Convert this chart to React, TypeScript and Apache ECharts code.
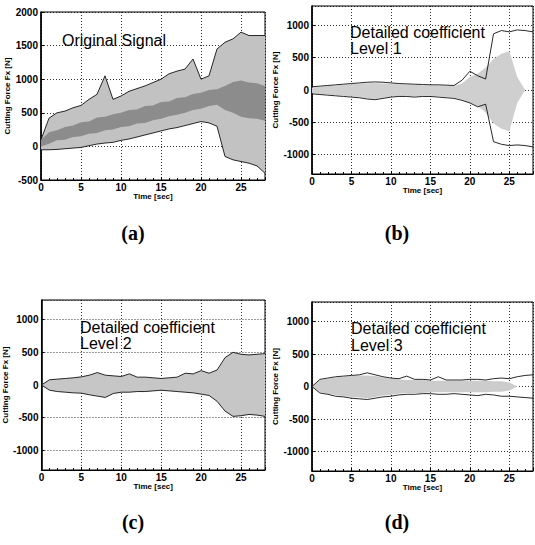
import React, { useEffect, useRef } from "react";
import * as echarts from "echarts";

// time in seconds
const T = [0, 1, 2, 3, 4, 5, 6, 7, 8, 9, 10, 11, 12, 13, 14, 15, 16, 17, 18, 19, 20, 21, 22, 23, 24, 25, 26, 27, 28];

// (a) Original signal: envelope and darker central band
const A_HI = [100, 420, 500, 525, 575, 610, 700, 775, 1050, 700, 750, 820, 860, 900, 950, 1000, 1080, 1120, 1150, 1300, 1000, 1050, 1450, 1550, 1600, 1700, 1650, 1650, 1650];
const A_LO = [-50, -50, -45, -35, -25, -15, 10, 35, 50, 60, 90, 110, 140, 170, 200, 230, 260, 280, 310, 340, 370, 350, 300, -150, -200, -225, -250, -290, -400];
const A_MID_HI = [100, 210, 240, 290, 310, 360, 370, 430, 440, 480, 500, 540, 550, 600, 610, 660, 670, 720, 730, 780, 800, 840, 850, 900, 960, 980, 950, 940, 900];
const A_MID_LO = [0, 40, 90, 100, 140, 150, 190, 200, 240, 250, 290, 300, 340, 350, 390, 410, 450, 470, 500, 540, 560, 600, 620, 540, 500, 440, 420, 410, 380];

// (b) Detail coefficient level 1
const B_HI = [50, 60, 70, 80, 90, 100, 110, 120, 125, 120, 110, 100, 95, 90, 85, 80, 80, 75, 70, 150, 290, 220, 170, 870, 920, 900, 930, 920, 900];
const B_LO = [-60, -70, -80, -90, -100, -110, -120, -140, -150, -130, -110, -100, -100, -110, -100, -100, -110, -120, -130, -160, -200, -260, -220, -800, -840, -860, -850, -860, -880];
const B_FILL_HI = [40, 50, 60, 70, 80, 90, 100, 105, 110, 100, 95, 90, 85, 80, 75, 70, 70, 65, 60, 100, 200, 250, 350, 480, 560, 600, 200, 0, 0];
const B_FILL_LO = [-50, -60, -70, -80, -90, -100, -110, -130, -140, -120, -100, -95, -90, -100, -90, -90, -100, -110, -120, -150, -200, -250, -350, -520, -600, -640, -200, 0, 0];

// (c) Detail coefficient level 2
const C_HI = [0, 80, 90, 100, 110, 125, 150, 190, 150, 140, 130, 170, 120, 120, 110, 100, 110, 120, 180, 170, 220, 180, 230, 420, 500, 470, 460, 470, 480];
const C_LO = [0, -80, -100, -110, -120, -125, -150, -170, -190, -130, -110, -110, -100, -100, -90, -80, -90, -100, -110, -120, -140, -160, -250, -400, -480, -470, -450, -460, -480];

// (d) Detail coefficient level 3
const D_HI = [0, 110, 130, 150, 160, 170, 180, 210, 180, 150, 130, 120, 160, 110, 110, 100, 150, 100, 100, 100, 110, 110, 100, 120, 130, 120, 150, 170, 180];
const D_LO = [0, -100, -120, -150, -160, -180, -190, -200, -180, -160, -150, -130, -120, -120, -110, -110, -120, -120, -110, -120, -130, -140, -120, -130, -150, -150, -160, -170, -180];
const D_FILL_HI = [0, 100, 120, 140, 150, 160, 170, 170, 160, 140, 120, 110, 100, 100, 100, 90, 90, 90, 90, 90, 90, 90, 90, 80, 80, 60, 0, 0, 0];
const D_FILL_LO = [0, -90, -110, -130, -150, -160, -170, -180, -160, -140, -130, -110, -100, -100, -100, -90, -90, -90, -90, -90, -90, -90, -90, -80, -80, -60, 0, 0, 0];

const X_TICKS = { min: 0, max: 28, interval: 5 };
const Y_NAME = "Cutting Force Fx [N]";
const X_NAME = "Time [sec]";

const FONT = "Liberation Sans";

function band(i: number, hi: number[], lo: number[], color: string, z: number) {
  return {
    type: "custom",
    xAxisIndex: i,
    yAxisIndex: i,
    silent: true,
    clip: true,
    z,
    data: T.map((t, k) => [t, hi[k], lo[k]]),
    encode: { x: 0, y: [1, 2] },
    renderItem: (params: any, api: any) => {
      if (params.dataIndex !== 0) return null;
      const pts: number[][] = [];
      for (let k = 0; k < T.length; k++) pts.push(api.coord([T[k], hi[k]]));
      for (let k = T.length - 1; k >= 0; k--) pts.push(api.coord([T[k], lo[k]]));
      return { type: "polygon", shape: { points: pts }, style: { fill: color } };
    },
  };
}

function env(i: number, vals: number[]) {
  return {
    type: "line",
    xAxisIndex: i,
    yAxisIndex: i,
    symbol: "none",
    silent: true,
    z: 5,
    data: T.map((t, k) => [t, vals[k]]),
    lineStyle: { color: "#111", width: 0.9 },
  };
}

const grids = [
  { left: 41, top: 12, width: 224, height: 168 },
  { left: 312, top: 6, width: 221, height: 168 },
  { left: 41, top: 300, width: 224, height: 170 },
  { left: 312, top: 302, width: 221, height: 169 },
];

const plain = (v: number) => String(v);

function xAxis(i: number) {
  return {
    gridIndex: i,
    type: "value",
    ...X_TICKS,
    name: X_NAME,
    nameLocation: "middle",
    nameGap: 11,
    nameTextStyle: { fontSize: 8, fontWeight: "bold", color: "#000", fontFamily: FONT },
    axisLine: { show: true, onZero: false, lineStyle: { color: "#000", width: 1.2 } },
    axisTick: { show: true, inside: true, length: 3, lineStyle: { color: "#000" } },
    minorTick: { show: true, splitNumber: 5, length: 2, lineStyle: { color: "#000" } },
    axisLabel: { fontSize: 10, fontWeight: "bold", color: "#000", margin: 2, fontFamily: FONT, showMaxLabel: false, formatter: plain },
    splitLine: { show: true, lineStyle: { type: [1, 2], color: "#000", width: 0.8 } },
  };
}

function yAxis(i: number) {
  const base: any = {
    gridIndex: i,
    type: "value",
    name: Y_NAME,
    nameLocation: "middle",
    nameRotate: 90,
    nameGap: i % 2 === 0 ? 27 : 25,
    nameTextStyle: { fontSize: 8, fontWeight: "bold", color: "#000", fontFamily: FONT },
    axisLine: { show: true, onZero: false, lineStyle: { color: "#000", width: 1.6 } },
    axisTick: { show: true, inside: true, length: 3, lineStyle: { color: "#000" } },
    axisLabel: { fontSize: 10, fontWeight: "bold", color: "#000", margin: 3, fontFamily: FONT, formatter: plain },
    splitLine: { show: true, lineStyle: { type: [1, 2], color: "#000", width: 0.8 } },
  };
  if (i === 0) {
    return { ...base, min: -500, max: 2000, interval: 500 };
  }
  return {
    ...base,
    min: -1300,
    max: 1300,
    splitNumber: 5,
    axisLabel: { ...base.axisLabel, showMinLabel: false, showMaxLabel: false },
  };
}

function txt(x: number, y: number, text: string, font: string, align = "left") {
  return {
    type: "text",
    x,
    y,
    z: 20,
    silent: true,
    style: { text, font, fill: "#000", align, verticalAlign: "middle" },
  };
}

const ANN_FONT = `16px "${FONT}"`;
const SUB_FONT = `bold 20px "Liberation Serif"`;

const option: any = {
  animation: false,
  backgroundColor: "#fff",
  grid: grids.map((g) => ({ ...g, show: true, borderColor: "#000", borderWidth: 1, backgroundColor: "transparent" })),
  xAxis: [0, 1, 2, 3].map(xAxis),
  yAxis: [0, 1, 2, 3].map(yAxis),
  series: [
    band(0, A_HI, A_LO, "#c2c2c2", 1),
    band(0, A_MID_HI, A_MID_LO, "#8c8c8c", 2),
    env(0, A_HI),
    env(0, A_LO),
    band(1, B_FILL_HI, B_FILL_LO, "#cfcfcf", 1),
    env(1, B_HI),
    env(1, B_LO),
    band(2, C_HI, C_LO, "#c6c6c6", 1),
    env(2, C_HI),
    env(2, C_LO),
    band(3, D_FILL_HI, D_FILL_LO, "#cccccc", 1),
    env(3, D_HI),
    env(3, D_LO),
  ],
  graphic: [
    txt(62, 40, "Original Signal", ANN_FONT),
    txt(350, 32, "Detailed coefficient", ANN_FONT),
    txt(350, 48, "Level 1", ANN_FONT),
    txt(80, 327, "Detailed coefficient", ANN_FONT),
    txt(80, 343, "Level 2", ANN_FONT),
    txt(351, 328, "Detailed coefficient", ANN_FONT),
    txt(351, 345, "Level 3", ANN_FONT),
    txt(133, 233, "(a)", SUB_FONT, "center"),
    txt(397, 233, "(b)", SUB_FONT, "center"),
    txt(133, 522, "(c)", SUB_FONT, "center"),
    txt(397, 522, "(d)", SUB_FONT, "center"),
  ],
};

export default function App() {
  const ref = useRef<HTMLDivElement>(null);
  useEffect(() => {
    const chart = echarts.init(ref.current!, null, { renderer: "svg" });
    chart.setOption(option);
    return () => chart.dispose();
  }, []);
  return <div ref={ref} style={{ position: "absolute", left: 0, top: 0, width: 535, height: 545 }} />;
}
